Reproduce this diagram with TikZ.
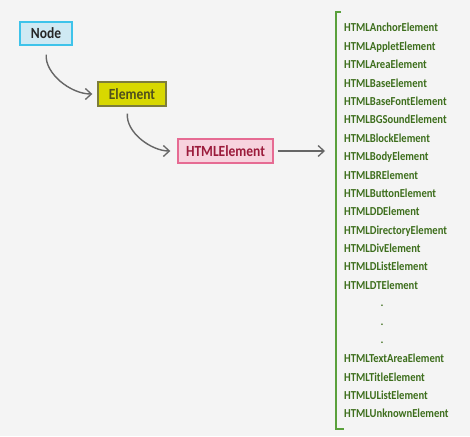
\documentclass[tikz,border=0pt]{standalone}
\usepackage{fontspec}
\setmainfont{Carlito}
\usetikzlibrary{arrows.meta}
\definecolor{bg}{HTML}{F4F4F4}
\definecolor{nodefill}{HTML}{CFE9F3}
\definecolor{nodeedge}{HTML}{3EC3EA}
\definecolor{elfill}{HTML}{D8D800}
\definecolor{eledge}{HTML}{7D7D3A}
\definecolor{eltext}{HTML}{4F4F1C}
\definecolor{hfill}{HTML}{F7D3DE}
\definecolor{hedge}{HTML}{E66B93}
\definecolor{htext}{HTML}{9B1B3B}
\definecolor{listtext}{HTML}{3D6E1C}
\definecolor{brk}{HTML}{5AA03C}
\definecolor{arrowgray}{HTML}{666666}
\newcommand{\tallt}[1]{\scalebox{1}[1.15]{#1}}
\tikzset{
  box/.style={draw, line width=1.4pt, minimum height=23pt, inner sep=0pt, font=\fontsize{13.5}{15}\selectfont\bfseries},
  arr/.style={draw=arrowgray, line width=1.4pt, -{Straight Barb[length=6pt,width=11pt,line width=1.3pt]}},
  item/.style={anchor=base west, inner sep=0pt, text=listtext, font=\fontsize{10.6}{12}\selectfont\bfseries},
  dotitem/.style={anchor=base, inner sep=0pt, text=listtext, font=\fontsize{11}{12}\selectfont\bfseries}
}
\begin{document}
\begin{tikzpicture}[x=1pt,y=-1pt]
\useasboundingbox (0,0) rectangle (470,436);
\fill[bg] (0,0) rectangle (470,436);
\node[box, draw=nodeedge, fill=nodefill, text=black!85, minimum width=52pt] (nd) at (46,33.5) {\tallt{Node}};
\node[box, draw=eledge, fill=elfill, text=eltext, minimum width=68pt, minimum height=24pt] (el) at (132,94) {\tallt{Element}};
\node[box, draw=hedge, fill=hfill, text=htext, minimum width=95pt, minimum height=24pt] (he) at (225.5,151) {\tallt{HTMLElement}};
\draw[arr, shorten <=9pt, shorten >=5pt] ([xshift=1pt]nd.south) to[out=-95,in=180] (el.west);
\draw[arr, shorten <=7pt, shorten >=7pt] ([xshift=-4pt]el.south) to[out=-95,in=180] (he.west);
\coordinate (btop) at (341,12);
\coordinate (bcorner1) at (336,12);
\coordinate (bcorner2) at (336,429);
\coordinate (bbot) at (344,429);
\coordinate (tip) at (325,151);
\draw[arr, shorten <=4pt] (he.east) -- (tip);
\draw[brk, line width=1.4pt] (btop) -- (bcorner1) -- (bcorner2) -- (bbot);
\foreach \t [count=\i from 0] in {HTMLAnchorElement,HTMLAppletElement,HTMLAreaElement,HTMLBaseElement,HTMLBaseFontElement,HTMLBGSoundElement,HTMLBlockElement,HTMLBodyElement,HTMLBRElement,HTMLButtonElement,HTMLDDElement,HTMLDirectoryElement,HTMLDivElement,HTMLDListElement,HTMLDTElement}
  \node[item] (l\i) at (344,{32+\i*18.38}) {\tallt{\t}};
\foreach \t [count=\i from 18] in {HTMLTextAreaElement,HTMLTitleElement,HTMLUListElement,HTMLUnknownElement}
  \node[item] (l\i) at (344,{32+\i*18.38}) {\tallt{\t}};
\node[dotitem] (d1) at (382,306.5) {.};
\node[dotitem] (d2) at (382,325) {.};
\node[dotitem] (d3) at (382,343.5) {.};
\end{tikzpicture}
\end{document}
